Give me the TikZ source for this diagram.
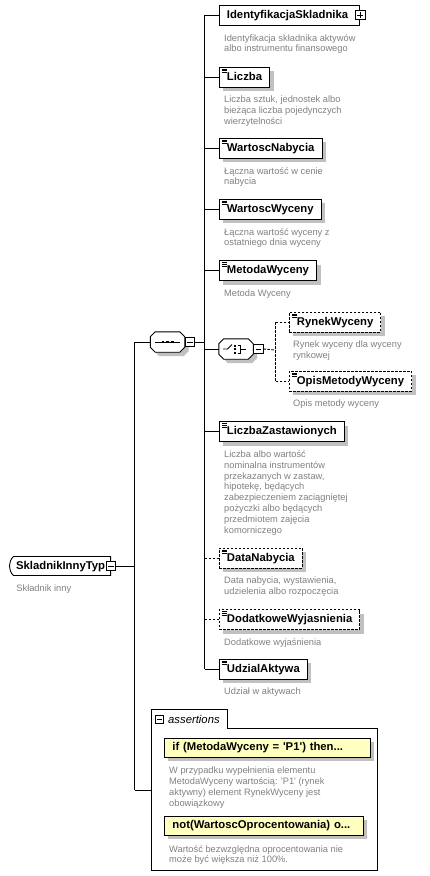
\documentclass[tikz,border=0pt]{standalone}
\usepackage{fontspec}
\setmainfont{Liberation Sans}
\usetikzlibrary{shapes.misc,shadows}
\definecolor{descgray}{RGB}{128,128,128}
\definecolor{shadegray}{RGB}{192,192,192}
\definecolor{asrtyellow}{RGB}{255,255,192}
\newcommand\elemfont{\fontsize{11.3}{13}\selectfont\bfseries}
\newcommand\descfont{\fontsize{9.3}{10.8}\selectfont}
\newcommand\compoutline[1]{([xshift=5pt]#1.north west) -- ([xshift=-5pt]#1.north east) -- ([yshift=-5pt]#1.north east)
    -- ([yshift=5pt]#1.south east) -- ([xshift=-5pt]#1.south east) -- ([xshift=5pt]#1.south west)
    -- ([yshift=5pt]#1.south west) -- ([yshift=-5pt]#1.north west) -- cycle}
\tikzset{
    elem/.style={
        rectangle,
        draw,
        line width=0.9pt,
        fill=white,
        anchor=west,
        minimum height=20pt,
        inner xsep=7.5pt,
        inner ysep=0pt,
        text height=8.5pt,
        text depth=2.5pt,
        font=\elemfont
    },
    shadowed/.style={
        drop shadow={shadow xshift=4pt, shadow yshift=-4pt, opacity=1, fill=shadegray}
    },
    valelem/.style={
        elem,
        shadowed,
        path picture={
            \draw[solid, black, line width=0.6pt] \foreach \k in {2,3.7,5.4} {
                ([xshift=2.5pt, yshift=-\k pt]path picture bounding box.north west) -- ++(5pt,0pt)
            };
        }
    },
    optelem/.style={
        valelem,
        dash pattern=on 2.5pt off 1.5pt
    },
    rootelem/.style={
        elem,
        rounded rectangle,
        rounded rectangle east arc=none,
        rounded rectangle arc length=90,
        inner xsep=5.5pt,
        minimum height=19pt
    },
    asrt/.style={
        elem,
        shadowed,
        fill=asrtyellow,
        inner xsep=8pt,
        align=left,
        minimum height=19pt
    },
    desc/.style={
        anchor=north west,
        inner sep=0pt,
        align=left,
        font=\descfont,
        text=descgray
    },
    pmbox/.style={
        rectangle,
        draw,
        line width=0.7pt,
        fill=white,
        minimum size=9.5pt,
        inner sep=0pt,
        path picture={
            \draw[line width=0.7pt] ([xshift=2pt]path picture bounding box.west) -- ([xshift=-2pt]path picture bounding box.east);
        }
    },
    plusbox/.style={
        pmbox,
        path picture={
            \draw[line width=0.7pt] ([xshift=2pt]path picture bounding box.west) -- ([xshift=-2pt]path picture bounding box.east)
                ([yshift=2pt]path picture bounding box.south) -- ([yshift=-2pt]path picture bounding box.north);
        }
    },
    comp/.style={
        rectangle,
        minimum width=34pt,
        minimum height=20pt,
        inner sep=0pt,
        append after command={\pgfextra{
            \fill[shadegray, transform canvas={shift={(4pt,-4pt)}}] \compoutline{\tikzlastnode};
            \filldraw[fill=white, line width=0.9pt] \compoutline{\tikzlastnode};
        }}
    },
    seqcomp/.style={
        comp,
        append after command={\pgfextra{
            \begin{scope}[shift={(\tikzlastnode.center)}]
                \draw[line width=0.9pt] (-12.5pt,0pt) -- (12.5pt,0pt);
                \foreach \d in {-4.6,0,4.6}
                    \fill (\d pt-1.4pt,-1.4pt) rectangle ++(2.8pt,2.8pt);
            \end{scope}
        }}
    },
    choicecomp/.style={
        comp,
        append after command={\pgfextra{
            \begin{scope}[shift={(\tikzlastnode.center)}]
                \draw[line width=0.8pt] (-13pt,0pt) -- (-8.5pt,0pt) -- (-4pt,4.5pt);
                \foreach \d in {-3.5,0,3.5}
                    \fill (-2pt,\d pt-1pt) rectangle ++(2pt,2pt);
                \draw[line width=0.8pt] (1.5pt,4pt) -- (4pt,4pt) -- (4pt,-4pt) -- (1.5pt,-4pt)
                    (4pt,0pt) -- (9.5pt,0pt);
            \end{scope}
        }}
    },
    conn/.style={
        line width=0.9pt
    },
    optconn/.style={
        conn,
        dash pattern=on 2.5pt off 1.5pt
    }
}
\begin{document}
\begin{tikzpicture}[x=1pt, y=-1pt]
    \useasboundingbox (0,0) rectangle (430,876);

    \node[rootelem] (sk) at (9,566) {SkladnikInnyTyp};
    \node[pmbox] (skm) at (sk.east) {};
    \node[desc] (skd) at ([xshift=3pt, yshift=-8.5pt]sk.south west) {Składnik inny};

    \node[seqcomp] (seq) at (167.5,342) {};
    \node[pmbox, anchor=west] (seqm) at (seq.east) {};

    \node[elem] (ident) at (219,15) {IdentyfikacjaSkladnika\hspace*{4pt}};
    \node[plusbox] (identp) at (ident.east) {};
    \node[desc] (identd) at ([xshift=5pt, yshift=-8.5pt]ident.south west) {Identyfikacja składnika aktywów\\albo instrumentu finansowego};

    \node[valelem] (liczba) at (219,77) {Liczba};
    \node[desc] (liczbad) at ([xshift=5pt, yshift=-8.5pt]liczba.south west) {Liczba sztuk, jednostek albo\\bieżąca liczba pojedynczych\\wierzytelności};

    \node[valelem] (wnab) at (219,148) {WartoscNabycia};
    \node[desc] (wnabd) at ([xshift=5pt, yshift=-8.5pt]wnab.south west) {Łączna wartość w cenie\\nabycia};

    \node[valelem] (wwyc) at (219,209) {WartoscWyceny};
    \node[desc] (wwycd) at ([xshift=5pt, yshift=-8.5pt]wwyc.south west) {Łączna wartość wyceny z\\ostatniego dnia wyceny};

    \node[valelem] (metoda) at (219,270.5) {MetodaWyceny};
    \node[desc] (metodad) at ([xshift=5pt, yshift=-8.5pt]metoda.south west) {Metoda Wyceny};

    \node[choicecomp] (choice) at (236,349) {};
    \node[pmbox, anchor=west] (choicem) at (choice.east) {};

    \node[optelem] (rynek) at (289,322) {RynekWyceny};
    \node[desc] (rynekd) at ([xshift=4pt, yshift=-8.5pt]rynek.south west) {Rynek wyceny dla wyceny\\rynkowej};

    \node[optelem] (opis) at (289,381) {OpisMetodyWyceny};
    \node[desc] (opisd) at ([xshift=4pt, yshift=-8.5pt]opis.south west) {Opis metody wyceny};

    \node[valelem] (lzast) at (219,431.5) {LiczbaZastawionych};
    \node[desc] (lzastd) at ([xshift=5pt, yshift=-8.5pt]lzast.south west) {Liczba albo wartość\\nominalna instrumentów\\przekazanych w zastaw,\\hipotekę, będących\\zabezpieczeniem zaciągniętej\\pożyczki albo będących\\przedmiotem zajęcia\\komorniczego};

    \node[optelem] (data) at (219,558) {DataNabycia};
    \node[desc] (datad) at ([xshift=5pt, yshift=-8.5pt]data.south west) {Data nabycia, wystawienia,\\udzielenia albo rozpoczęcia};

    \node[optelem] (dodat) at (219,619.5) {DodatkoweWyjasnienia};
    \node[desc] (dodatd) at ([xshift=5pt, yshift=-8.5pt]dodat.south west) {Dodatkowe wyjaśnienia};

    \node[valelem] (udzial) at (219,669) {UdzialAktywa};
    \node[desc] (udziald) at ([xshift=5pt, yshift=-8.5pt]udzial.south west) {Udział w aktywach};

    % assertions group
    \draw[conn] (151,870) -- (151,709) -- (227,709) -- (227,728) -- (377,728) -- (377,870) -- cycle;
    \node[pmbox, minimum size=8.5pt] (asrtm) at (159.5,719.5) {};
    \node[anchor=west, inner sep=0pt, font=\fontsize{11.3}{13}\selectfont\itshape] (asrtlbl) at (168,719.5) {assertions};
    \coordinate (asrtin) at (151,790);

    \node[asrt, text width=190pt] (asrt1) at (164,747.5) {if (MetodaWyceny = \textquotesingle P1\textquotesingle) then...};
    \node[desc] (asrt1d) at ([xshift=5pt, yshift=-9.5pt]asrt1.south west) {W przypadku wypełnienia elementu\\MetodaWyceny wartością: \textquotesingle P1\textquotesingle{} (rynek\\aktywny) element RynekWyceny jest\\obowiązkowy};

    \node[asrt, text width=183pt] (asrt2) at (164,825.5) {not(WartoscOprocentowania) o...};
    \node[desc] (asrt2d) at ([xshift=5pt, yshift=-9.5pt]asrt2.south west) {Wartość bezwzględna oprocentowania nie\\może być większa niż 100\%.};

    % connectors
    \coordinate (rootbus) at (134.5,566);
    \coordinate (seqbus) at (204.5,342);
    \coordinate (choicebus) at (275.5,350);

    \draw[conn] (skm.east) -- (rootbus);
    \draw[conn] (rootbus |- seq.west) -- (rootbus |- asrtin);
    \draw[conn] (rootbus |- seq.west) -- (seq.west);
    \draw[conn] (rootbus |- asrtin) -- (asrtin);

    \draw[conn] (seqm.east) -- (seqbus);
    \draw[conn] (seqbus |- ident.west) -- (seqbus |- udzial.west);
    \foreach \n in {ident,liczba,wnab,wwyc,metoda,choice,lzast,udzial}
        \draw[conn] (seqbus |- \n.west) -- (\n.west);
    \foreach \n in {data,dodat}
        \draw[optconn] (seqbus |- \n.west) -- (\n.west);

    \draw[optconn] (choicem.east) -- (choicebus);
    \draw[optconn] (choicebus |- rynek.west) -- (choicebus |- opis.west);
    \foreach \n in {rynek,opis}
        \draw[optconn] (choicebus |- \n.west) -- (\n.west);

\end{tikzpicture}
\end{document}
